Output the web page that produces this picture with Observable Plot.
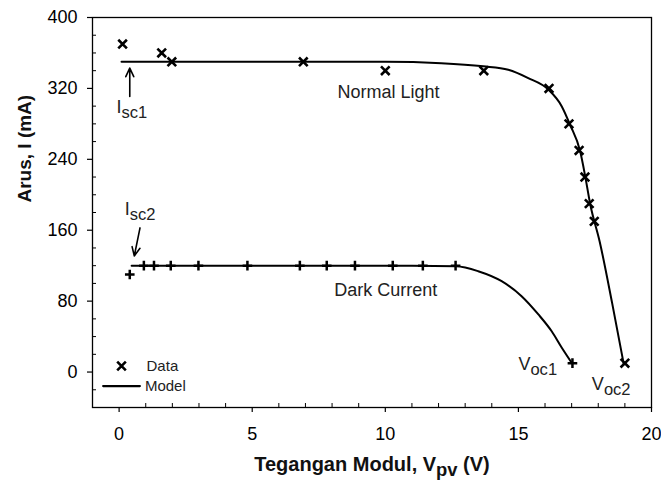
<!DOCTYPE html>
<html><head><meta charset="utf-8">
<script src="https://cdn.jsdelivr.net/npm/d3@7"></script>
<script src="https://cdn.jsdelivr.net/npm/@observablehq/plot@0.6"></script>
<style>body{margin:0;background:#fff;} #chart svg{display:block;}</style>
</head><body><div id="chart"></div>
<script>
// Measured data, Normal Light (x markers)
const normalDataV = [0.13, 1.6, 1.98, 6.92, 10.0, 13.7, 16.15, 16.9, 17.28, 17.5, 17.66, 17.85, 19.0];
const normalDataI = [370, 360, 350, 350, 340, 340, 320, 280, 250, 220, 190, 170, 10];
// Measured data, Dark Current (+ markers)
const darkDataV = [0.4, 0.93, 1.31, 1.94, 2.98, 4.82, 6.79, 7.8, 8.86, 10.28, 11.41, 12.64, 17.03];
const darkDataI = [110, 120, 120, 120, 120, 120, 120, 120, 120, 120, 120, 120, 10];
// Model curves
const normalModelV = [0.09, 10.0, 12.1, 13.68, 14.62, 15.37, 16.13, 16.63, 16.94, 17.32, 17.51, 17.70, 18.05, 18.52, 18.96];
const normalModelI = [350, 350, 348.5, 345, 341, 331.6, 318.5, 299.7, 279, 249, 220.8, 189, 147.6, 78, 8.7];
const darkModelV = [0.47, 11.0, 12.66, 13.49, 14.37, 15.12, 15.75, 16.25, 16.63, 17.0];
const darkModelI = [120, 120, 119.4, 113.8, 102.5, 85.6, 65, 46, 27.4, 10.5];
// Axis ticks
const xTicks = [0, 5, 10, 15, 20];
const xMinor = [1, 2, 3, 4, 6, 7, 8, 9, 11, 12, 13, 14, 16, 17, 18, 19];
const yTicks = [0, 80, 160, 240, 320, 400];
const yMinor = [-20, 20, 40, 60, 100, 120, 140, 180, 200, 220, 260, 280, 300, 340, 360, 380];
// Text
const xTitle = "Tegangan Modul, V_{pv} (V)";
const yTitle = "Arus, I (mA)";
const curveLabels = ["Normal Light", "Dark Current"];
const annotationLabels = ["I_{sc1}", "I_{sc2}", "V_{oc1}", "V_{oc2}"];
const legendLabels = ["Data", "Model"];

const zip = (xs, ys) => xs.map((x, i) => ({x, y: ys[i]}));
const normalData = zip(normalDataV, normalDataI);
const darkData = zip(darkDataV, darkDataI);
const normalModel = zip(normalModelV, normalModelI);
const darkModel = zip(darkModelV, darkModelI);

const curveText = [
  {x: 8.2, y: 315.3, t: curveLabels[0]},
  {x: 8.08, y: 92.6, t: curveLabels[1]}
];
const annoText = [
  {x: -0.1, y: 299, t: annotationLabels[0]},
  {x: 0.21, y: 184.2, t: annotationLabels[1]},
  {x: 15.0, y: 9, t: annotationLabels[2]},
  {x: 17.76, y: -14.3, t: annotationLabels[3]}
];
const arrows = [
  {x1: 0.4, y1: 311, x2: 0.4, y2: 342.9},
  {x1: 0.785, y1: 162.6, x2: 0.57, y2: 131}
];
const legendMark = [{x: 0.09, y: 6.8}];
const legendLine = [{x: -0.6, y: -15.8}, {x: 0.78, y: -15.8}];
const legendText = [{x: 1.03, y: 6.8, t: legendLabels[0]}, {x: 0.97, y: -15.8, t: legendLabels[1]}];

const chart = Plot.plot({
  width: 661, height: 487,
  marginLeft: 92, marginRight: 10, marginTop: 17, marginBottom: 80,
  style: {fontFamily: "'Liberation Sans', Arial, sans-serif", fontSize: "18px", background: "#fff", color: "#000"},
  x: {domain: [-1, 20]},
  y: {domain: [-40, 400]},
  marks: [
    Plot.frame({stroke: "#000", strokeWidth: 1.3}),
    Plot.axisX({ticks: xTicks, tickSize: 5, tickPadding: 15, label: null, strokeWidth: 1.2}),
    Plot.axisX({ticks: xMinor, tickSize: 4, dy: -4, tickFormat: () => "", label: null, strokeWidth: 1}),
    Plot.axisY({ticks: yTicks, tickSize: 5, tickPadding: 10, label: null, strokeWidth: 1.2}),
    Plot.axisY({ticks: yMinor, tickSize: 4, dx: 4, tickFormat: () => "", label: null, strokeWidth: 1}),
    Plot.line(normalModel, {x: "x", y: "y", curve: "monotone-x", stroke: "#000", strokeWidth: 2}),
    Plot.line(darkModel, {x: "x", y: "y", curve: "monotone-x", stroke: "#000", strokeWidth: 2}),
    Plot.dot(normalData, {x: "x", y: "y", symbol: "times", r: 4, stroke: "#000", strokeWidth: 2.6}),
    Plot.dot(darkData, {x: "x", y: "y", symbol: "plus", r: 3.2, stroke: "#000", strokeWidth: 2.5}),
    Plot.text(curveText, {x: "x", y: "y", text: "t", textAnchor: "start", fontSize: 18, fill: "#222"}),
    Plot.text(annoText, {x: "x", y: "y", text: "t", textAnchor: "start", fontSize: 18, fill: "#222"}),
    Plot.arrow(arrows, {x1: "x1", y1: "y1", x2: "x2", y2: "y2", stroke: "#000", strokeWidth: 1.6, headLength: 10, headAngle: 50}),
    Plot.dot(legendMark, {x: "x", y: "y", symbol: "times", r: 4, stroke: "#000", strokeWidth: 2.6}),
    Plot.line(legendLine, {x: "x", y: "y", stroke: "#000", strokeWidth: 2.2}),
    Plot.text(legendText, {x: "x", y: "y", text: "t", textAnchor: "start", fontSize: 15, fill: "#222"}),
    Plot.text([xTitle], {text: d => d, frameAnchor: "bottom", dy: 63, fontSize: 20, fontWeight: "bold", fill: "#111"}),
    Plot.text([yTitle], {text: d => d, frameAnchor: "left", rotate: -90, dx: -68, dy: -10, fontSize: 19, fontWeight: "bold", fill: "#111"})
  ]
});

// Turn "_{...}" into subscript tspans
const NS = "http://www.w3.org/2000/svg";
chart.querySelectorAll("text, tspan").forEach(el => {
  if (el.children.length) return;
  const m = el.textContent.match(/^(.*)_\{(.*?)\}(.*)$/);
  if (!m) return;
  el.textContent = "";
  const a = document.createElementNS(NS, "tspan"); a.textContent = m[1];
  const b = document.createElementNS(NS, "tspan"); b.textContent = m[2];
  b.setAttribute("dy", "0.3em"); b.setAttribute("font-size", "0.92em");
  el.append(a, b);
  if (m[3]) {
    const c = document.createElementNS(NS, "tspan"); c.textContent = m[3];
    c.setAttribute("dy", "-0.276em");
    el.append(c);
  }
});
document.getElementById("chart").append(chart);
</script>
</body></html>
